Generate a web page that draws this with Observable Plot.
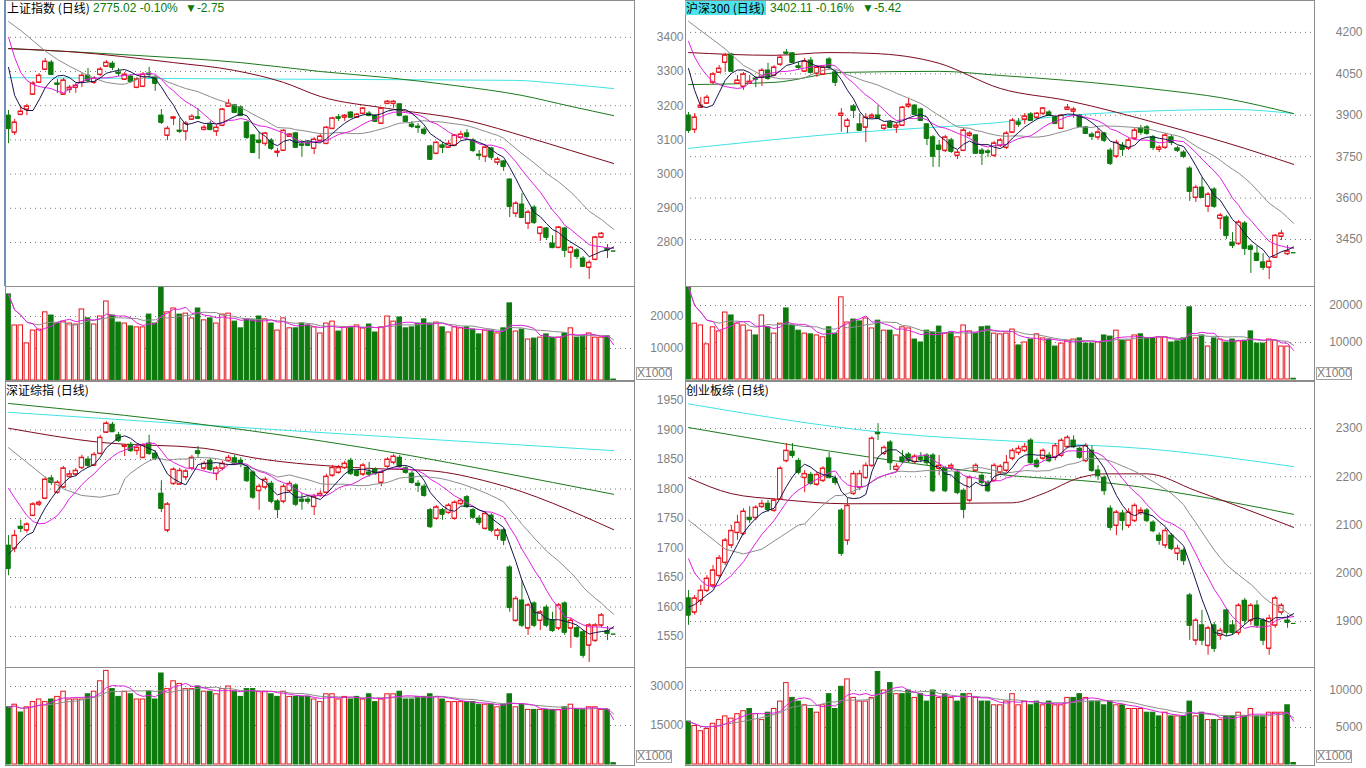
<!DOCTYPE html>
<html><head><meta charset="utf-8">
<script src="https://cdn.jsdelivr.net/npm/d3@7"></script>
<script src="https://cdn.jsdelivr.net/npm/@observablehq/plot@0.6"></script>
<style>
body{margin:0;background:#fff;}
#root{position:relative;width:1366px;height:768px;overflow:hidden;background:#fff;}
.hdr{position:absolute;font-family:"Noto Sans CJK SC",sans-serif;font-size:12px;line-height:14px;white-space:nowrap;color:#000;overflow:visible;}
.num{position:absolute;font-family:"Liberation Sans",Arial,sans-serif;font-size:12px;line-height:14px;color:#0a7a0a;white-space:nowrap;}
.xk{position:absolute;border:1px solid #a0a0a0;color:#808080;font:12px "Liberation Sans",Arial,sans-serif;line-height:11px;height:11px;width:34px;text-align:right;overflow:hidden;white-space:nowrap;}
.edge{position:absolute;background:#6f8fbd;width:2px;}
</style></head><body><div id="root"></div>
<script>
// ---------- 上证指数 ----------
const shOpen = [3171,3122,3174,3189,3233,3268,3306,3326,3265,3233, 3247,3253,3268,3288,3268,3291,3315,3323,3297,3277, 3285,3253,3256,3294,3282,3171,3113,3163,3127,3125, 3160,3166,3130,3145,3125,3142,3198,3201,3195,3151, 3113,3098,3089,3098,3063,3069,3110,3119,3087,3092, 3075,3098,3089,3133,3166,3166,3180,3166,3177,3177, 3171,3148,3206,3206,3204,3168,3145,3139,3130,3081, 3060,3084,3078,3084,3107,3119,3098,3057,3051,3075, 3034,3037,2984,2885,2911,2856,2902,2826,2841,2797, 2785,2841,2771,2777,2753,2727,2750,2815,2782,2775.02];
const shClose = [3133,3151,3183,3198,3265,3288,3329,3291,3262,3274, 3253,3259,3288,3274,3280,3306,3326,3312,3294,3291, 3271,3277,3291,3291,3265,3151,3133,3166,3125,3148, 3168,3163,3136,3130,3136,3189,3206,3180,3171,3107, 3063,3092,3119,3075,3066,3127,3116,3078,3084,3084, 3101,3110,3136,3163,3163,3171,3166,3174,3192,3171, 3154,3192,3212,3212,3171,3154,3139,3136,3119,3043, 3092,3078,3089,3113,3116,3110,3069,3054,3078,3049, 3043,3022,2905,2914,2873,2888,2858,2844,2815,2785, 2844,2777,2785,2759,2730,2741,2815,2826,2777.77,2775.02];
const shHigh = [3186,3160,3198,3204,3271,3294,3338,3332,3277,3280, 3259,3265,3294,3309,3285,3312,3332,3329,3309,3297, 3291,3282,3297,3312,3288,3189,3139,3168,3163,3154, 3174,3192,3142,3154,3142,3192,3218,3204,3198,3154, 3116,3122,3122,3104,3075,3130,3119,3122,3098,3098, 3107,3116,3139,3166,3174,3174,3183,3177,3195,3183, 3174,3195,3215,3215,3206,3171,3154,3148,3136,3084, 3095,3092,3098,3116,3125,3130,3104,3069,3084,3078, 3049,3040,2987,2920,2943,2894,2908,2847,2844,2820, 2847,2844,2788,2782,2759,2747,2818,2829,2794,2775.02];
const shLow = [3089,3113,3171,3171,3230,3265,3303,3288,3236,3230, 3236,3236,3253,3268,3262,3285,3312,3303,3285,3274, 3265,3250,3253,3280,3242,3145,3098,3142,3119,3098, 3157,3160,3127,3127,3110,3139,3195,3177,3168,3101, 3060,3043,3081,3069,3049,3066,3107,3075,3049,3081, 3057,3092,3087,3130,3154,3154,3163,3163,3174,3168, 3151,3145,3204,3192,3168,3151,3133,3119,3113,3040, 3057,3060,3075,3081,3101,3104,3063,3040,3034,3040, 3025,3008,2873,2873,2870,2838,2853,2803,2806,2782, 2782,2756,2724,2750,2727,2692,2747,2812,2753,2775.02];
const shVol = [26900,17200,17200,11600,15600,15900,21300,20300,17800,18400, 17800,17500,22200,19400,17500,20000,24700,20300,18100,17800, 16900,16600,16600,20600,17800,29100,21300,22500,20600,20900, 19400,22500,18800,19400,17800,20600,20900,18400,16300,19100, 18800,20000,19100,17800,15600,19400,16300,16300,17800,17200, 16600,14700,17800,18400,15300,16600,16600,17200,16300,17500, 15000,16600,20000,18400,19700,16300,16600,17800,19100,17800, 18100,16600,15000,16600,16300,16600,15900,14400,15600,15600, 14700,16300,24100,15300,15900,12800,13100,13400,14400,13400, 13400,14700,16300,13400,13800,14700,13400,13400,13800,300];
const shMa5Head = [[0,3312],[1,3230],[2,3195],[3,3186]];
const shMa10Head = [[0,3400],[1,3341],[2,3297],[3,3274],[4,3262],[5,3256],[6,3253],[7,3250],[8,3242]];
const shMa20Head = [[0,3446],[2,3420],[4,3390],[6,3360],[8,3335],[10,3315],[12,3297],[14,3280],[16,3268],[18,3263]];
const shMa60 = [[0,3367],[10,3358],[27,3326],[37,3303],[45,3268],[51,3227],[62,3192],[75,3157],[85,3107],[92,3069],[99,3031]];
const shMa120 = [[0,3367],[21,3347],[38,3326],[51,3300],[62,3282],[73,3259],[84,3230],[92,3198],[99,3171]];
const shMa250 = [[0,3282],[52,3277],[83,3274],[90,3265],[99,3250]];
const shTicks = [2800,2900,3000,3100,3200,3300,3400];
const shVolTicks = [10000,20000];

// ---------- 沪深300 ----------
const hsOpen = [3899,3848,3928,3943,4019,4055,4091,4120,4015,4004, 4015,4033,4037,4062,4044,4084,4127,4124,4077,4059, 4098,4051,4048,4102,4055,3899,3859,3932,3867,3856, 3892,3899,3852,3874,3856,3863,3932,3935,3921,3867, 3820,3790,3772,3809,3754,3772,3827,3827,3772,3769, 3754,3790,3783,3838,3874,3885,3903,3892,3906,3910, 3892,3852,3921,3914,3899,3856,3830,3820,3834,3772, 3751,3790,3780,3816,3852,3856,3820,3776,3783,3820, 3780,3765,3707,3602,3638,3570,3631,3526,3530,3439, 3435,3508,3425,3399,3367,3349,3385,3461,3398,3402.11];
const hsClose = [3845,3892,3935,3964,4048,4069,4117,4059,4026,4048, 4022,4030,4062,4033,4073,4109,4124,4091,4073,4095, 4055,4073,4073,4073,4019,3906,3881,3917,3845,3892, 3899,3888,3863,3856,3863,3928,3939,3903,3881,3816, 3751,3776,3820,3769,3765,3845,3834,3762,3762,3765, 3798,3809,3834,3881,3867,3896,3881,3906,3925,3899, 3870,3899,3928,3921,3859,3834,3823,3838,3809,3725, 3801,3776,3809,3845,3838,3834,3783,3783,3827,3801, 3772,3751,3624,3638,3602,3613,3570,3537,3464,3428, 3512,3417,3414,3374,3349,3370,3464,3472,3407.53,3402.11];
const hsHigh = [3910,3906,3964,3972,4055,4080,4124,4124,4044,4055, 4044,4040,4069,4088,4080,4117,4138,4127,4091,4106, 4109,4080,4080,4109,4062,3924,3888,3939,3906,3906, 3906,3935,3867,3881,3870,3932,3961,3939,3925,3870, 3827,3809,3827,3816,3772,3852,3841,3830,3780,3776, 3805,3816,3841,3888,3888,3906,3910,3910,3928,3917, 3896,3903,3939,3928,3903,3859,3838,3852,3838,3780, 3809,3801,3816,3852,3863,3863,3827,3790,3834,3827, 3787,3772,3714,3646,3675,3620,3638,3544,3537,3475, 3519,3515,3432,3425,3399,3381,3468,3483,3428,3402.11];
const hsLow = [3834,3834,3928,3939,4011,4051,4055,4055,4011,3990, 4011,4000,4004,4026,4040,4077,4117,4088,4062,4055, 4051,4037,4044,4062,4004,3838,3834,3888,3841,3801, 3888,3885,3845,3852,3834,3859,3925,3899,3877,3790, 3711,3711,3765,3762,3740,3769,3820,3758,3718,3747, 3747,3783,3776,3834,3856,3867,3877,3885,3899,3896, 3867,3848,3917,3888,3856,3830,3809,3809,3801,3718, 3743,3751,3772,3809,3827,3827,3772,3765,3776,3790, 3765,3743,3588,3584,3599,3548,3562,3486,3450,3417, 3428,3392,3327,3370,3338,3305,3381,3446,3392,3402.11];
const hsVol = [24900,15100,14600,9500,14100,13000,18100,17300,15100,14600, 13200,11900,17300,14100,12400,15100,19200,14600,13200,12400, 12200,11900,11400,14100,12400,22200,15400,16200,15700,16500, 13800,15900,13200,13200,11900,14100,13800,10800,10000,13200, 12700,14300,12400,12700,11400,14600,13000,12400,14100,14300, 12400,12200,12400,13500,9200,10000,10800,12200,11100,10800, 8900,9700,10500,10800,11100,9700,9700,10000,11900,11600, 13200,10500,10500,11900,12200,11100,11100,11400,11400,10000, 10300,11100,19500,11100,11900,8900,11100,10800,10000,10800, 10300,10500,13000,9700,9700,10800,10500,8900,8900,200];
const hsMa5Head = [[0,4069],[1,3990],[2,3932],[3,3928]];
const hsMa10Head = [[0,4167],[1,4110],[2,4073],[3,4044],[4,4022],[5,4011],[6,4004],[7,4000],[8,3997]];
const hsMa20Head = [[0,4240],[3,4190],[6,4140],[9,4080],[12,4045],[15,4032],[18,4032]];
const hsMa60 = [[0,4127],[14,4117],[23,4127],[30,4124],[41,4088],[51,3997],[62,3953],[78,3863],[91,3780],[99,3722]];
const hsMa120 = [[0,4011],[14,4019],[25,4055],[41,4059],[51,4044],[62,4026],[78,3990],[87,3964],[99,3906]];
const hsMa250 = [[0,3780],[25,3834],[51,3874],[62,3899],[78,3917],[89,3921],[99,3906]];
const hsTicks = [3450,3600,3750,3900,4050,4200];
const hsVolTicks = [10000,20000];

// ---------- 深证综指 ----------
const szOpen = [1704,1699,1736,1730,1755,1774,1784,1818,1794,1803, 1821,1825,1836,1850,1840,1860,1896,1909,1891,1872, 1875,1865,1853,1877,1860,1792,1730,1809,1808,1820, 1835,1864,1835,1848,1826,1835,1848,1852,1848,1836, 1828,1797,1803,1809,1779,1779,1797,1806,1782,1782, 1770,1789,1794,1823,1828,1836,1848,1830,1825,1828, 1833,1811,1838,1845,1853,1835,1826,1809,1804,1764, 1750,1764,1760,1750,1775,1786,1764,1750,1733,1755, 1721,1730,1667,1577,1611,1564,1606,1577,1599,1577, 1564,1606,1564,1564,1557,1535,1543,1569,1559,1554];
const szClose = [1665,1721,1733,1740,1774,1777,1816,1811,1811,1835, 1825,1831,1853,1840,1858,1887,1911,1897,1882,1874, 1865,1870,1874,1860,1852,1767,1774,1833,1831,1830, 1853,1860,1843,1833,1835,1843,1853,1843,1843,1814, 1786,1804,1816,1779,1765,1804,1809,1774,1779,1779, 1787,1792,1821,1836,1836,1843,1826,1823,1840,1825, 1826,1828,1850,1855,1838,1828,1811,1806,1789,1736, 1769,1757,1772,1777,1780,1770,1752,1743,1758,1730, 1730,1713,1599,1614,1569,1603,1569,1591,1569,1560, 1603,1557,1577,1550,1518,1569,1569,1586,1555,1554];
const szHigh = [1721,1730,1747,1743,1777,1780,1820,1823,1814,1838, 1831,1835,1857,1855,1862,1891,1914,1913,1896,1875, 1879,1874,1877,1891,1865,1814,1777,1836,1835,1833, 1857,1872,1847,1852,1838,1847,1857,1857,1853,1840, 1831,1808,1820,1813,1782,1808,1813,1809,1792,1787, 1791,1797,1825,1840,1840,1847,1852,1833,1843,1845, 1836,1831,1853,1858,1857,1838,1830,1814,1808,1767, 1772,1767,1775,1780,1784,1789,1767,1755,1762,1758, 1733,1733,1670,1618,1645,1606,1609,1594,1603,1591, 1606,1609,1581,1567,1560,1572,1572,1589,1567,1554];
const szLow = [1653,1692,1726,1725,1753,1770,1782,1806,1791,1801, 1818,1821,1833,1836,1838,1858,1894,1896,1879,1855, 1862,1857,1852,1857,1848,1760,1726,1806,1806,1814, 1831,1853,1831,1830,1814,1831,1845,1840,1836,1811, 1782,1764,1799,1775,1750,1775,1794,1770,1764,1774, 1755,1786,1791,1820,1825,1833,1823,1820,1821,1820, 1823,1804,1835,1841,1835,1825,1808,1794,1786,1733, 1747,1747,1757,1747,1772,1767,1748,1738,1730,1726, 1713,1704,1591,1574,1565,1552,1565,1560,1565,1557, 1560,1552,1530,1547,1513,1506,1540,1565,1543,1554];
const szVol = [22000,23000,20000,22000,24000,25000,24000,25000,26000,28000, 25000,25000,25000,27000,28000,32000,36000,29000,26000,28000, 27000,25000,25000,28000,25000,35000,29000,32000,31000,29000, 29000,30000,28000,28000,27000,29000,30000,28000,26000,29000, 29000,28000,28000,27000,26000,28000,26000,26000,26000,26000, 25000,24000,27000,27000,25000,26000,25000,26000,25000,27000, 24000,25000,27000,27000,28000,25000,25000,26000,26000,27000, 26000,25000,24000,24000,24000,24000,24000,23000,23000,23000, 22000,23000,27000,22000,23000,21000,21000,21000,21000,21000, 21000,22000,23000,21000,21000,22000,22000,21000,21000,500];
const szMa5Head = [[0,1690],[1,1700],[2,1712],[3,1722]];
const szMa10Head = [[0,1801],[1,1785],[2,1770],[3,1755],[4,1745],[5,1741],[6,1742],[7,1748],[8,1755]];
const szMa20Head = [[0,1870],[3,1845],[6,1820],[9,1800],[12,1789],[15,1786],[18,1792]];
const szMa60 = [[0,1903],[15,1879],[32,1869],[40,1853],[59,1835],[69,1831],[79,1811],[99,1731]];
const szMa120 = [[0,1945],[38,1901],[65,1858],[79,1831],[99,1791]];
const szMa250 = [[0,1930],[46,1899],[99,1865]];
const szTicks = [1550,1600,1650,1700,1750,1800,1850,1900,1950];
const szGrid = [1550,1600,1650,1700,1750,1800,1850,1900];
const szVolTicks = [15000,30000];

// ---------- 创业板综 ----------
const cyOpen = [1948,1919,1943,1964,1975,1995,2022,2058,2084,2082, 2115,2115,2138,2144,2130,2153,2233,2252,2233,2198, 2204,2184,2192,2238,2196,2130,2068,2165,2178,2198, 2223,2291,2248,2271,2215,2240,2246,2231,2240,2244, 2244,2217,2217,2219,2209,2171,2151,2213,2202,2188, 2192,2209,2213,2238,2250,2254,2275,2233,2238,2244, 2240,2244,2262,2275,2258,2233,2254,2213,2198,2134, 2099,2124,2099,2109,2126,2130,2105,2078,2058,2078, 2041,2047,1954,1861,1892,1850,1892,1871,1923,1892, 1877,1943,1902,1933,1902,1844,1892,1919,1902,1896];
const cyClose = [1913,1948,1964,1989,2006,2031,2068,2088,2105,2128, 2111,2136,2144,2132,2151,2217,2254,2244,2209,2206, 2186,2204,2217,2198,2188,2041,2140,2206,2206,2223, 2279,2289,2260,2229,2221,2231,2233,2242,2236,2229, 2171,2223,2171,2223,2167,2132,2198,2223,2188,2171, 2223,2221,2229,2254,2258,2262,2229,2221,2254,2233, 2264,2275,2281,2262,2240,2264,2213,2202,2171,2095, 2126,2109,2126,2140,2130,2109,2088,2068,2088,2051, 2051,2026,1892,1902,1861,1886,1844,1881,1877,1877, 1933,1902,1933,1892,1861,1906,1948,1933,1898,1896];
const cyHigh = [1964,1954,1975,1995,2016,2037,2072,2099,2120,2134, 2138,2140,2151,2151,2155,2221,2269,2269,2238,2213, 2209,2209,2221,2250,2202,2134,2155,2211,2213,2229, 2283,2310,2264,2275,2227,2254,2250,2246,2250,2248, 2248,2244,2221,2227,2213,2175,2202,2227,2206,2192, 2227,2225,2244,2258,2264,2269,2279,2238,2258,2250, 2269,2279,2285,2285,2262,2269,2264,2223,2202,2140, 2130,2130,2134,2144,2136,2134,2109,2084,2093,2082, 2058,2051,1958,1906,1923,1890,1898,1886,1927,1902, 1937,1948,1937,1943,1906,1913,1952,1937,1913,1896];
const cyLow = [1892,1913,1933,1960,1968,1989,2016,2051,2068,2078, 2103,2109,2134,2126,2126,2151,2229,2238,2204,2167, 2182,2180,2188,2196,2182,2035,2058,2161,2171,2194, 2219,2275,2244,2213,2211,2227,2229,2227,2229,2223, 2167,2202,2167,2213,2163,2113,2146,2209,2182,2167, 2188,2204,2209,2233,2244,2250,2225,2217,2233,2229, 2233,2240,2258,2258,2236,2229,2209,2192,2161,2088, 2078,2088,2093,2105,2120,2105,2084,2058,2051,2047, 2026,2016,1861,1850,1850,1830,1836,1861,1869,1871, 1871,1892,1892,1886,1850,1830,1886,1913,1886,1896];
const cyVol = [5800,5200,4500,4800,5500,6000,6500,6200,6800,7200, 7500,6800,6000,7000,7500,8500,11000,9000,8500,8000, 7500,7000,8000,9500,7500,10500,11500,9000,8500,8500, 9000,12500,10000,11000,9500,9500,10000,9000,9500,8500, 10000,9000,9500,9000,8500,9500,9500,9000,8500,8500, 8000,8000,8500,9500,8000,8500,8000,8500,8000,8500, 8000,8000,9000,9000,9500,9000,8500,8500,8000,8500, 8000,8000,7500,7500,7500,7000,7000,6500,7000,6500, 6500,6500,8500,6500,7000,6000,6000,6000,6500,6500, 7000,6500,7500,6500,6500,7000,7000,7000,8000,200];
const cyMa5Head = [[0,1930],[1,1935],[2,1945],[3,1955]];
const cyMa10Head = [[0,2030],[1,2000],[2,1985],[3,1975],[4,1972],[5,1975],[6,1985],[7,1995],[8,2010]];
const cyMa20Head = [[0,2110],[3,2080],[6,2050],[9,2040],[12,2050],[15,2075],[18,2100]];
const cyMa60 = [[0,2198],[7,2165],[15,2153],[26,2144],[53,2146],[58,2165],[64,2198],[68,2206],[75,2206],[83,2171],[99,2095]];
const cyMa120 = [[0,2302],[30,2240],[53,2202],[68,2188],[91,2142],[99,2122]];
const cyMa250 = [[0,2351],[31,2293],[60,2269],[75,2258],[99,2221]];
const cyTicks = [1900,2000,2100,2200,2300];
const cyVolTicks = [5000,10000];

// ---------- drawing ----------
const RED = "#e6141c", GREEN = "#0e7a0e";
const C5 = "#14144e", C10 = "#e01ee0", C20 = "#8c8c8c", C60 = "#7d0a1e", C120 = "#1c7a1c", C250 = "#3fe3e6";
const root = document.getElementById("root");

function movingAvg(vals, n, head) {
  const out = head.map(([i, v]) => ({i, v}));
  for (let i = n - 1; i < vals.length; i++) out.push({i, v: d3.mean(vals.slice(i - n + 1, i + 1))});
  return out;
}
function partialAvg(vals, n) {
  return vals.map((_, i) => ({i, v: d3.mean(vals.slice(Math.max(0, i - n + 1), i + 1))}));
}
function place(el, left, top) {
  el.style.position = "absolute"; el.style.left = left + "px"; el.style.top = top + "px";
  root.appendChild(el);
}
const W = 0.36;
function side(isLeft) {
  return isLeft
    ? {width: 685, mL: 5, mR: 51, xRange: [5, 616.2], dx: 49, left: 0}
    : {width: 681, mL: 0, mR: 52, xRange: [0, 611.2], dx: 48, left: 685};
}
const svgStyle = {background: "transparent", fontFamily: "'Liberation Sans', Arial, sans-serif", fontSize: "12px", color: "#7f7f7f", overflow: "visible"};
const axisOpts = (dx) => ({anchor: "right", tickSize: 0, tickPadding: 0, textAnchor: "end", dx, fontSize: 12, label: null, tickFormat: d => String(d)});

function pricePanel(p) {
  const s = side(p.isLeft);
  const rows = p.open.map((o, i) => ({i, o, h: p.high[i], l: p.low[i], c: p.close[i]}));
  const up = rows.filter(d => d.c > d.o), dn = rows.filter(d => d.c <= d.o);
  const ln = (data, color, curve) => Plot.line(data, {x: d => Array.isArray(d) ? d[0] : d.i, y: d => Array.isArray(d) ? d[1] : d.v, stroke: color, strokeWidth: 1, curve: curve || "linear", clip: true});
  const body = (data, color, fill) => [
    Plot.ruleX(data, {x: "i", y1: "l", y2: "h", stroke: color, strokeWidth: 1}),
    Plot.rect(data, {x1: d => d.i - W, x2: d => d.i + W, y1: "o", y2: "c", fill, stroke: color, strokeWidth: 1}),
    Plot.ruleY(data, {y: "o", x1: d => d.i - W, x2: d => d.i + W, stroke: color, strokeWidth: 1}),
    Plot.ruleY(data, {y: "c", x1: d => d.i - W, x2: d => d.i + W, stroke: color, strokeWidth: 1})
  ];
  const svg = Plot.plot({
    width: s.width, height: p.height, marginLeft: s.mL, marginRight: s.mR, marginTop: 0, marginBottom: 0,
    x: {type: "linear", domain: [-0.5, 99.5], range: s.xRange, axis: null},
    y: {type: "linear", domain: p.yDomain, range: p.yRange, label: null},
    style: svgStyle,
    marks: [
      Plot.ruleY(p.grid, {y: d => d, stroke: "#7a7a7a", strokeDasharray: "1,4"}),
      ln(p.ma250, C250, "monotone-x"),
      ln(p.ma120, C120, "monotone-x"),
      ln(p.ma60, C60, "monotone-x"),
      ...body(dn, GREEN, GREEN),
      ...body(up, RED, "white"),
      ln(movingAvg(p.close, 20, p.ma20Head), C20),
      ln(movingAvg(p.close, 10, p.ma10Head), C10),
      ln(movingAvg(p.close, 5, p.ma5Head), C5),
      Plot.frame({stroke: "#8c8c8c"}),
      Plot.axisY(p.labels, axisOpts(s.dx))
    ]
  });
  place(svg, s.left, p.top);
}

function volPanel(p) {
  const s = side(p.isLeft);
  const rows = p.vol.map((v, i) => ({i, v, up: p.close[i] > p.open[i]}));
  const svg = Plot.plot({
    width: s.width, height: p.height, marginLeft: s.mL, marginRight: s.mR, marginTop: 0, marginBottom: 0,
    x: {type: "linear", domain: [-0.5, 99.5], range: s.xRange, axis: null},
    y: {type: "linear", domain: p.yDomain, range: p.yRange, label: null},
    style: svgStyle,
    marks: [
      Plot.ruleY(p.ticks, {y: d => d, stroke: "#7a7a7a", strokeDasharray: "1,4"}),
      Plot.rect(rows.filter(d => !d.up), {x1: d => d.i - 0.37, x2: d => d.i + 0.37, y1: 0, y2: "v", fill: GREEN, stroke: GREEN}),
      Plot.rect(rows.filter(d => d.up), {x1: d => d.i - 0.37, x2: d => d.i + 0.37, y1: 0, y2: "v", fill: "white", stroke: RED}),
      Plot.line(partialAvg(p.vol, 10), {x: "i", y: "v", stroke: C20, strokeWidth: 1}),
      Plot.line(partialAvg(p.vol, 5), {x: "i", y: "v", stroke: C10, strokeWidth: 1}),
      Plot.frame({stroke: "#8c8c8c"}),
      Plot.axisY(p.ticks, axisOpts(s.dx))
    ]
  });
  place(svg, s.left, p.top);
}

// 上证指数
pricePanel({isLeft: true, top: 0, height: 286, open: shOpen, high: shHigh, low: shLow, close: shClose,
  ma5Head: shMa5Head, ma10Head: shMa10Head, ma20Head: shMa20Head, ma60: shMa60, ma120: shMa120, ma250: shMa250,
  yDomain: [2800, 3400], yRange: [242, 36.8], grid: shTicks, labels: shTicks});
volPanel({isLeft: true, top: 286, height: 94, vol: shVol, open: shOpen, close: shClose, yDomain: [0, 20000], yRange: [94, 30], ticks: shVolTicks});
// 沪深300
pricePanel({isLeft: false, top: 0, height: 286, open: hsOpen, high: hsHigh, low: hsLow, close: hsClose,
  ma5Head: hsMa5Head, ma10Head: hsMa10Head, ma20Head: hsMa20Head, ma60: hsMa60, ma120: hsMa120, ma250: hsMa250,
  yDomain: [3450, 4200], yRange: [239, 31.9], grid: hsTicks, labels: hsTicks});
volPanel({isLeft: false, top: 286, height: 94, vol: hsVol, open: hsOpen, close: hsClose, yDomain: [0, 20000], yRange: [93, 19], ticks: hsVolTicks});
// 深证综指
pricePanel({isLeft: true, top: 381, height: 286, open: szOpen, high: szHigh, low: szLow, close: szClose,
  ma5Head: szMa5Head, ma10Head: szMa10Head, ma20Head: szMa20Head, ma60: szMa60, ma120: szMa120, ma250: szMa250,
  yDomain: [1550, 1950], yRange: [255, 19], grid: szGrid, labels: szTicks});
volPanel({isLeft: true, top: 667, height: 98, vol: szVol, open: szOpen, close: szClose, yDomain: [0, 30000], yRange: [97, 19], ticks: szVolTicks});
// 创业板综
pricePanel({isLeft: false, top: 381, height: 286, open: cyOpen, high: cyHigh, low: cyLow, close: cyClose,
  ma5Head: cyMa5Head, ma10Head: cyMa10Head, ma20Head: cyMa20Head, ma60: cyMa60, ma120: cyMa120, ma250: cyMa250,
  yDomain: [1900, 2300], yRange: [240, 47], grid: cyTicks, labels: cyTicks});
volPanel({isLeft: false, top: 667, height: 98, vol: cyVol, open: cyOpen, close: cyClose, yDomain: [0, 10000], yRange: [97, 23], ticks: cyVolTicks});

// headers, unit boxes, active-panel edge
function addHtml(cls, text, left, top, extra) {
  const d = document.createElement("div"); d.className = cls; d.textContent = text;
  d.style.left = left + "px"; d.style.top = top + "px";
  if (extra) Object.assign(d.style, extra);
  root.appendChild(d);
}
addHtml("edge", "", 4, 0, {height: "286px"});
addHtml("hdr", "上证指数 (日线)", 7, 1);
addHtml("num", "2775.02 -0.10%", 93, 1);
addHtml("num", "▼-2.75", 185, 1);
addHtml("hdr", "沪深300 (日线)", 685, 1, {background: "#4ee2ec", padding: "0 1px"});
addHtml("num", "3402.11 -0.16%", 770, 1);
addHtml("num", "▼-5.42", 862, 1);
addHtml("hdr", "深证综指 (日线)", 6, 383);
addHtml("hdr", "创业板综 (日线)", 686, 383);
addHtml("xk", "X1000", 636, 367);
addHtml("xk", "X1000", 1316, 367);
addHtml("xk", "X1000", 636, 750);
addHtml("xk", "X1000", 1316, 750);
</script></body></html>
